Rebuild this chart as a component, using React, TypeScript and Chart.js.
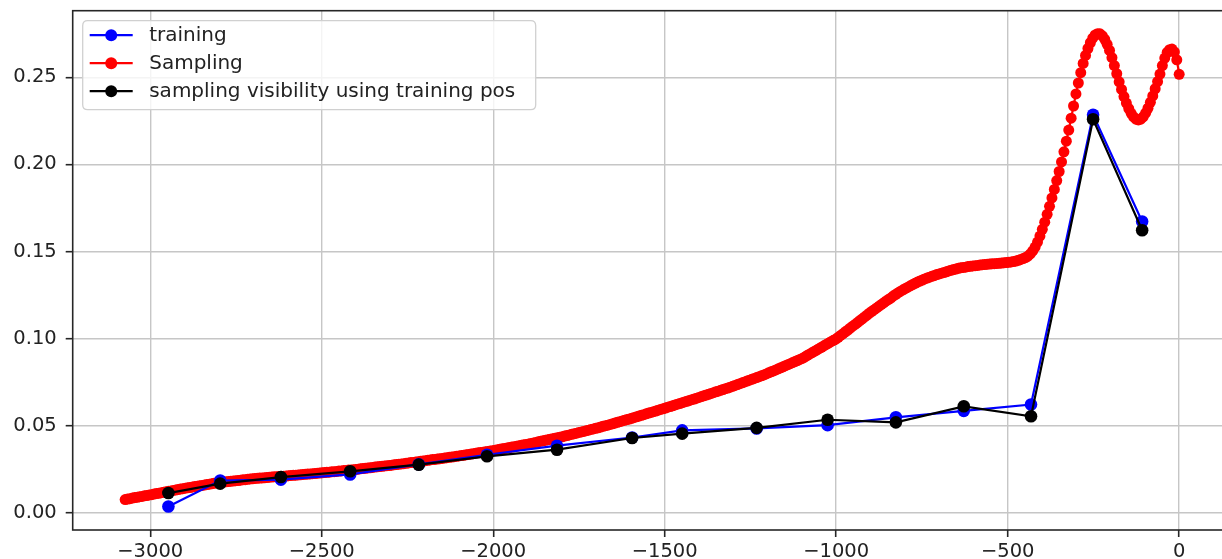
import React, { useEffect, useRef } from "react";
import { Chart, registerables } from "chart.js";

Chart.register(...registerables);

const FONT = "'DejaVu Sans', 'Liberation Sans', sans-serif";

const seriesNames = ["training", "Sampling", "sampling visibility using training pos"];
const seriesColors = ["#0000ff", "#ff0000", "#000000"];

const xTicks = [-3000, -2500, -2000, -1500, -1000, -500, 0];
const yTicks = [0, 0.05, 0.1, 0.15, 0.2, 0.25];

// training positions (shared by blue and black series)
const trainingX = [-2947, -2796, -2619, -2417, -2217, -2018, -1814, -1595, -1449, -1232, -1025, -826, -628, -432, -251, -108];
const trainingY = [0.0036, 0.0185, 0.0190, 0.0220, 0.0278, 0.0333, 0.0385, 0.0432, 0.0473, 0.0484, 0.0503, 0.0548, 0.0585, 0.0621, 0.2285, 0.1672];
const visibilityY = [0.0113, 0.0167, 0.0205, 0.0238, 0.0276, 0.0324, 0.0362, 0.0429, 0.0454, 0.0487, 0.0534, 0.0519, 0.0611, 0.0554, 0.2259, 0.1622];

const samplingX = [
  -3073, -3066, -3059, -3052, -3045, -3038, -3031, -3024, -3017, -3010,
  -3003, -2996, -2989, -2982, -2975, -2968, -2961, -2954, -2947, -2940,
  -2933, -2926, -2919, -2912, -2905, -2898, -2891, -2884, -2877, -2870,
  -2863, -2856, -2849, -2842, -2835, -2828, -2821, -2814, -2807, -2800,
  -2793, -2786, -2779, -2772, -2765, -2758, -2751, -2744, -2737, -2730,
  -2723, -2716, -2709, -2702, -2695, -2688, -2681, -2674, -2667, -2660,
  -2653, -2646, -2639, -2632, -2625, -2618, -2611, -2604, -2597, -2590,
  -2583, -2576, -2569, -2562, -2555, -2548, -2541, -2534, -2527, -2520,
  -2513, -2506, -2499, -2492, -2485, -2478, -2471, -2464, -2457, -2450,
  -2443, -2436, -2429, -2422, -2415, -2408, -2401, -2394, -2387, -2380,
  -2373, -2366, -2359, -2352, -2345, -2338, -2331, -2324, -2317, -2310,
  -2303, -2296, -2289, -2282, -2275, -2268, -2261, -2254, -2247, -2240,
  -2233, -2226, -2219, -2212, -2205, -2198, -2191, -2184, -2177, -2170,
  -2163, -2156, -2149, -2142, -2135, -2128, -2121, -2114, -2107, -2100,
  -2093, -2086, -2079, -2072, -2065, -2058, -2051, -2044, -2037, -2030,
  -2023, -2016, -2009, -2002, -1995, -1988, -1981, -1974, -1967, -1960,
  -1953, -1946, -1939, -1932, -1925, -1918, -1911, -1904, -1897, -1890,
  -1883, -1876, -1869, -1862, -1855, -1848, -1841, -1834, -1827, -1820,
  -1813, -1806, -1799, -1792, -1785, -1778, -1771, -1764, -1757, -1750,
  -1743, -1736, -1729, -1722, -1715, -1708, -1701, -1694, -1687, -1680,
  -1673, -1666, -1659, -1652, -1645, -1638, -1631, -1624, -1617, -1610,
  -1603, -1596, -1589, -1582, -1575, -1568, -1561, -1554, -1547, -1540,
  -1533, -1526, -1519, -1512, -1505, -1498, -1491, -1484, -1477, -1470,
  -1463, -1456, -1449, -1442, -1435, -1428, -1421, -1414, -1407, -1400,
  -1393, -1386, -1379, -1372, -1365, -1358, -1351, -1344, -1337, -1330,
  -1323, -1316, -1309, -1302, -1295, -1288, -1281, -1274, -1267, -1260,
  -1253, -1246, -1239, -1232, -1225, -1218, -1211, -1204, -1197, -1190,
  -1183, -1176, -1169, -1162, -1155, -1148, -1141, -1134, -1127, -1120,
  -1113, -1106, -1099, -1092, -1085, -1078, -1071, -1064, -1057, -1050,
  -1043, -1036, -1029, -1022, -1015, -1008, -1001, -994, -987, -980,
  -973, -966, -959, -952, -945, -938, -931, -924, -917, -910,
  -903, -896, -889, -882, -875, -868, -861, -854, -847, -840,
  -833, -826, -819, -812, -805, -798, -791, -784, -777, -770,
  -763, -756, -749, -742, -735, -728, -721, -714, -707, -700,
  -693, -686, -679, -672, -665, -658, -651, -644, -637, -630,
  -623, -616, -609, -602, -595, -588, -581, -574, -567, -560,
  -553, -546, -539, -532, -525, -518, -511, -504, -497, -490,
  -483, -476, -469, -462, -455, -448, -441, -434, -427, -420,
  -413, -406, -399, -392, -385, -378, -371, -364, -357, -350,
  -343, -336, -329, -322, -315, -308, -301, -294, -287, -280,
  -273, -266, -259, -252, -245, -238, -231, -224, -217, -210,
  -203, -196, -189, -182, -175, -168, -161, -154, -147, -140,
  -133, -126, -119, -112, -105, -98, -91, -84, -77, -70,
  -63, -56, -49, -42, -35, -28, -21, -14, -7, 0,
];

const samplingY = [
  0.0076, 0.0079, 0.0081, 0.0084, 0.0087, 0.0089, 0.0092, 0.0094, 0.0097, 0.0099,
  0.0102, 0.0104, 0.0107, 0.0110, 0.0112, 0.0115, 0.0117, 0.0120, 0.0123, 0.0125,
  0.0128, 0.0130, 0.0133, 0.0136, 0.0138, 0.0141, 0.0143, 0.0145, 0.0148, 0.0150,
  0.0152, 0.0155, 0.0157, 0.0159, 0.0162, 0.0164, 0.0166, 0.0169, 0.0171, 0.0173,
  0.0175, 0.0176, 0.0178, 0.0179, 0.0181, 0.0182, 0.0184, 0.0185, 0.0187, 0.0189,
  0.0190, 0.0192, 0.0194, 0.0195, 0.0197, 0.0198, 0.0199, 0.0200, 0.0201, 0.0202,
  0.0204, 0.0205, 0.0206, 0.0207, 0.0208, 0.0209, 0.0210, 0.0211, 0.0213, 0.0214,
  0.0215, 0.0216, 0.0217, 0.0218, 0.0220, 0.0221, 0.0222, 0.0223, 0.0224, 0.0225,
  0.0227, 0.0228, 0.0229, 0.0231, 0.0232, 0.0233, 0.0235, 0.0236, 0.0237, 0.0239,
  0.0240, 0.0242, 0.0243, 0.0245, 0.0246, 0.0247, 0.0249, 0.0250, 0.0252, 0.0254,
  0.0255, 0.0257, 0.0258, 0.0260, 0.0262, 0.0264, 0.0265, 0.0267, 0.0269, 0.0270,
  0.0271, 0.0273, 0.0275, 0.0277, 0.0279, 0.0280, 0.0282, 0.0284, 0.0286, 0.0288,
  0.0289, 0.0291, 0.0293, 0.0295, 0.0297, 0.0299, 0.0301, 0.0303, 0.0305, 0.0306,
  0.0308, 0.0310, 0.0312, 0.0314, 0.0316, 0.0318, 0.0320, 0.0322, 0.0324, 0.0326,
  0.0328, 0.0330, 0.0333, 0.0335, 0.0337, 0.0339, 0.0342, 0.0344, 0.0346, 0.0348,
  0.0350, 0.0352, 0.0354, 0.0356, 0.0359, 0.0361, 0.0364, 0.0367, 0.0369, 0.0372,
  0.0374, 0.0377, 0.0379, 0.0382, 0.0385, 0.0387, 0.0390, 0.0392, 0.0395, 0.0398,
  0.0401, 0.0404, 0.0407, 0.0410, 0.0413, 0.0416, 0.0419, 0.0422, 0.0425, 0.0428,
  0.0431, 0.0434, 0.0436, 0.0440, 0.0443, 0.0447, 0.0450, 0.0454, 0.0457, 0.0461,
  0.0464, 0.0467, 0.0471, 0.0474, 0.0478, 0.0481, 0.0485, 0.0488, 0.0492, 0.0496,
  0.0500, 0.0503, 0.0507, 0.0511, 0.0515, 0.0519, 0.0523, 0.0527, 0.0531, 0.0535,
  0.0538, 0.0542, 0.0547, 0.0551, 0.0555, 0.0559, 0.0563, 0.0568, 0.0572, 0.0576,
  0.0580, 0.0584, 0.0589, 0.0593, 0.0597, 0.0601, 0.0606, 0.0610, 0.0614, 0.0619,
  0.0623, 0.0627, 0.0632, 0.0636, 0.0640, 0.0645, 0.0649, 0.0653, 0.0658, 0.0662,
  0.0667, 0.0671, 0.0676, 0.0680, 0.0685, 0.0689, 0.0694, 0.0698, 0.0703, 0.0707,
  0.0712, 0.0716, 0.0721, 0.0726, 0.0731, 0.0736, 0.0741, 0.0746, 0.0751, 0.0756,
  0.0761, 0.0766, 0.0771, 0.0776, 0.0781, 0.0786, 0.0791, 0.0797, 0.0803, 0.0809,
  0.0814, 0.0820, 0.0826, 0.0832, 0.0838, 0.0844, 0.0850, 0.0856, 0.0862, 0.0868,
  0.0874, 0.0880, 0.0886, 0.0894, 0.0902, 0.0910, 0.0918, 0.0926, 0.0934, 0.0942,
  0.0950, 0.0958, 0.0966, 0.0974, 0.0982, 0.0990, 0.0997, 0.1007, 0.1018, 0.1028,
  0.1039, 0.1049, 0.1060, 0.1071, 0.1081, 0.1092, 0.1103, 0.1113, 0.1124, 0.1135,
  0.1146, 0.1156, 0.1166, 0.1176, 0.1186, 0.1196, 0.1206, 0.1216, 0.1225, 0.1234,
  0.1245, 0.1254, 0.1263, 0.1272, 0.1280, 0.1288, 0.1295, 0.1303, 0.1310, 0.1317,
  0.1324, 0.1330, 0.1336, 0.1342, 0.1347, 0.1352, 0.1357, 0.1362, 0.1367, 0.1371,
  0.1375, 0.1379, 0.1383, 0.1388, 0.1392, 0.1396, 0.1399, 0.1403, 0.1406, 0.1408,
  0.1410, 0.1413, 0.1415, 0.1417, 0.1418, 0.1420, 0.1422, 0.1424, 0.1425, 0.1427,
  0.1428, 0.1429, 0.1430, 0.1431, 0.1432, 0.1433, 0.1435, 0.1436, 0.1438, 0.1440,
  0.1442, 0.1445, 0.1449, 0.1454, 0.1459, 0.1465, 0.1473, 0.1486, 0.1503, 0.1525,
  0.1554, 0.1588, 0.1627, 0.1668, 0.1713, 0.1759, 0.1807, 0.1856, 0.1907, 0.1959,
  0.2014, 0.2072, 0.2133, 0.2197, 0.2265, 0.2335, 0.2404, 0.2467, 0.2526, 0.2579,
  0.2625, 0.2665, 0.2698, 0.2724, 0.2743, 0.2750, 0.2749, 0.2738, 0.2718, 0.2689,
  0.2654, 0.2612, 0.2567, 0.2520, 0.2474, 0.2430, 0.2389, 0.2352, 0.2320, 0.2293,
  0.2272, 0.2259, 0.2255, 0.2259, 0.2273, 0.2294, 0.2322, 0.2356, 0.2393, 0.2434,
  0.2475, 0.2518, 0.2567, 0.2610, 0.2642, 0.2658, 0.2662, 0.2645, 0.2600, 0.2517,
];

const fmtX = (v: number) => (v < 0 ? "\u2212" + Math.abs(v) : String(v));
const fmtY = (v: number) => Number(v).toFixed(2);

const framePlugin = {
  id: "frameAndLegend",
  afterDatasetsDraw(chart: any) {
    const { ctx, chartArea: a } = chart;
    ctx.save();
    ctx.strokeStyle = "#262626";
    ctx.lineWidth = 1.6;
    ctx.strokeRect(a.left, a.top, a.right - a.left, a.bottom - a.top);
    ctx.restore();
  },
  afterDraw(chart: any) {
    const { ctx, chartArea: a } = chart;
    const bx = a.left + 10;
    const by = a.top + 10;
    const bw = 453;
    const bh = 89;
    const r = 5;
    ctx.save();
    ctx.beginPath();
    ctx.moveTo(bx + r, by);
    ctx.lineTo(bx + bw - r, by);
    ctx.quadraticCurveTo(bx + bw, by, bx + bw, by + r);
    ctx.lineTo(bx + bw, by + bh - r);
    ctx.quadraticCurveTo(bx + bw, by + bh, bx + bw - r, by + bh);
    ctx.lineTo(bx + r, by + bh);
    ctx.quadraticCurveTo(bx, by + bh, bx, by + bh - r);
    ctx.lineTo(bx, by + r);
    ctx.quadraticCurveTo(bx, by, bx + r, by);
    ctx.closePath();
    ctx.fillStyle = "rgba(255,255,255,0.8)";
    ctx.fill();
    ctx.strokeStyle = "#d0d0d0";
    ctx.lineWidth = 1.3;
    ctx.stroke();
    [0, 1, 2].forEach((s, i) => {
      const cy = by + 14.5 + i * 28;
      ctx.strokeStyle = seriesColors[s];
      ctx.lineWidth = 2.2;
      ctx.beginPath();
      ctx.moveTo(bx + 7, cy);
      ctx.lineTo(bx + 50, cy);
      ctx.stroke();
      ctx.fillStyle = seriesColors[s];
      ctx.beginPath();
      ctx.arc(bx + 28.5, cy, 6, 0, Math.PI * 2);
      ctx.fill();
      ctx.fillStyle = "#222";
      ctx.font = `20px ${FONT}`;
      ctx.textBaseline = "middle";
      ctx.textAlign = "left";
      ctx.fillText(seriesNames[s], bx + 66.5, cy + 1);
    });
    ctx.restore();
  },
};

export default function App() {
  const ref = useRef<HTMLCanvasElement | null>(null);

  useEffect(() => {
    if (!ref.current) return;
    const gridCommon = {
      color: "#c6c6c6",
      lineWidth: 1.4,
      tickColor: "#262626",
      tickWidth: 1.6,
      tickLength: 7,
      drawTicks: true,
    };
    const chart = new Chart(ref.current, {
      type: "scatter",
      data: {
        datasets: [
          {
            label: seriesNames[2],
            data: trainingX.map((x, i) => ({ x, y: visibilityY[i] })),
            showLine: true,
            borderColor: seriesColors[2],
            backgroundColor: seriesColors[2],
            pointBackgroundColor: seriesColors[2],
            pointBorderWidth: 0,
            pointRadius: 6.3,
            borderWidth: 2.2,
            order: 1,
          },
          {
            label: seriesNames[0],
            data: trainingX.map((x, i) => ({ x, y: trainingY[i] })),
            showLine: true,
            borderColor: seriesColors[0],
            backgroundColor: seriesColors[0],
            pointBackgroundColor: seriesColors[0],
            pointBorderWidth: 0,
            pointRadius: 6.3,
            borderWidth: 2.2,
            order: 2,
          },
          {
            label: seriesNames[1],
            data: samplingX.map((x, i) => ({ x, y: samplingY[i] })),
            showLine: true,
            borderColor: seriesColors[1],
            backgroundColor: seriesColors[1],
            pointBackgroundColor: seriesColors[1],
            pointBorderWidth: 0,
            pointRadius: 5.5,
            borderWidth: 2.2,
            order: 3,
          },
        ],
      },
      options: {
        responsive: false,
        animation: false,
        devicePixelRatio: 1,
        layout: { padding: { left: 0, right: 0, top: 0, bottom: 0 }, autoPadding: false },
        plugins: { legend: { display: false }, tooltip: { enabled: false } },
        elements: { line: { tension: 0 } },
        scales: {
          x: {
            type: "linear",
            min: -3226,
            max: 154,
            afterBuildTicks: (s: any) => {
              s.ticks = xTicks.map((v) => ({ value: v }));
            },
            afterFit: (s: any) => {
              s.height = 29;
            },
            grid: gridCommon,
            border: { display: false },
            ticks: {
              callback: (v: any) => fmtX(Number(v)),
              font: { family: FONT, size: 19.5 },
              color: "#222",
              padding: 3,
              maxRotation: 0,
              autoSkip: false,
            },
          },
          y: {
            type: "linear",
            min: -0.0099,
            max: 0.2882,
            afterBuildTicks: (s: any) => {
              s.ticks = yTicks.map((v) => ({ value: v }));
            },
            afterFit: (s: any) => {
              s.width = 72.7;
            },
            grid: gridCommon,
            border: { display: false },
            ticks: {
              callback: (v: any) => fmtY(Number(v)),
              font: { family: FONT, size: 19.5 },
              color: "#222",
              padding: 9,
              autoSkip: false,
            },
          },
        },
      },
      plugins: [framePlugin],
    });
    return () => chart.destroy();
  }, []);

  return (
    <div
      style={{
        position: "fixed",
        left: 0,
        top: 0,
        width: 1222,
        height: 559,
        overflow: "hidden",
        background: "#fff",
      }}
    >
      <canvas
        ref={ref}
        width={1232}
        height={569}
        style={{ display: "block", position: "absolute", left: 0, top: -10, width: 1232, height: 569 }}
      />
    </div>
  );
}
